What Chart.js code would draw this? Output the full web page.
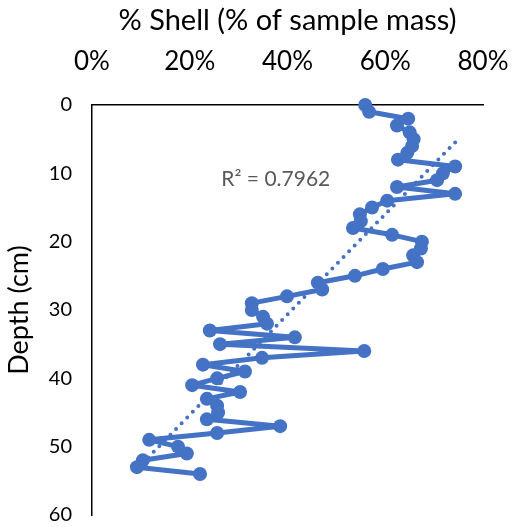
<!DOCTYPE html>
<html>
<head>
<meta charset="utf-8">
<script src="https://cdn.jsdelivr.net/npm/chart.js@4.4.0/dist/chart.umd.min.js"></script>
<style>
  html, body { margin: 0; padding: 0; background: #fff; }
  #wrap { width: 513px; height: 527px; }
</style>
</head>
<body>
<div id="wrap"><canvas id="mycanvas" width="513" height="527"></canvas></div>
<script>
// depth of each sample (cm)
var depth = [0, 1, 2, 3, 4, 5, 6, 7, 8, 9, 10, 11, 12, 13, 14, 15, 16, 17, 18, 19,
	20, 21, 22, 23, 24, 25, 26, 27, 28, 29, 30, 31, 32, 33, 34, 35, 36, 37, 38, 39,
	40, 41, 42, 43, 44, 45, 46, 47, 48, 49, 50, 51, 52, 53, 54];
// % shell
var shell = [55.9, 56.7, 64.7, 62.4, 65.0, 65.8, 65.5, 64.5, 62.6, 74.3, 71.8, 70.6, 62.4, 74.3, 60.4, 57.3, 54.8, 55.0, 53.4, 61.4,
	67.5, 67.3, 65.7, 66.5, 59.5, 53.8, 46.2, 47.1, 39.9, 32.7, 32.7, 35.0, 35.8, 24.1, 41.5, 26.2, 55.7, 34.8, 22.7, 31.3,
	25.6, 20.5, 30.3, 23.5, 25.6, 25.8, 23.5, 38.5, 25.6, 11.7, 17.6, 19.4, 10.4, 9.2, 22.1];
var xTicks = [0, 20, 40, 60, 80];
var yTicks = [0, 10, 20, 30, 40, 50, 60];
var r2Text = "R\u00b2 = 0.7962";

var blue = "#4472C4";
var font = "Lato, 'Noto Sans', sans-serif";

var points = [];
for (var i in depth) {
	points.push({x: shell[i], y: depth[i]});
}

// linear trendline, depth on shell (like the spreadsheet does it)
var n = points.length, sx = 0, sy = 0, sxx = 0, sxy = 0;
for (var i in points) {
	sx += points[i].x; sy += points[i].y;
	sxx += points[i].x * points[i].x; sxy += points[i].x * points[i].y;
}
var slope = (n * sxy - sx * sy) / (n * sxx - sx * sx);
var icpt = (sy - slope * sx) / n;
var xmin = Math.min.apply(null, shell), xmax = Math.max.apply(null, shell);
var trend = [{x: xmax, y: slope * xmax + icpt}, {x: xmin, y: slope * xmin + icpt}];

var r2Label = {
	id: "r2Label",
	afterDatasetsDraw: function(chart) {
		var c = chart.ctx;
		c.save();
		c.font = "21px " + font;
		c.fillStyle = "#595959";
		c.textAlign = "center";
		c.textBaseline = "middle";
		c.fillText(r2Text, chart.scales.x.getPixelForValue(37.6), chart.scales.y.getPixelForValue(10.8));
		c.restore();
	}
};

var ctx = document.getElementById("mycanvas");
var chart = new Chart(ctx, {
	type: "scatter",
	data: {
		datasets: [
			{
				label: "trend",
				data: trend,
				showLine: true,
				fill: false,
				borderColor: blue,
				borderWidth: 4,
				borderDash: [0, 8],
				borderCapStyle: "round",
				pointRadius: 0,
				clip: false,
				order: 2
			},
			{
				label: "% Shell",
				data: points,
				showLine: true,
				fill: false,
				lineTension: 0,
				borderColor: blue,
				backgroundColor: blue,
				borderWidth: 5,
				borderJoinStyle: "round",
				borderCapStyle: "round",
				pointRadius: 7,
				pointBorderWidth: 0,
				pointBackgroundColor: blue,
				clip: false,
				order: 1
			}
		]
	},
	options: {
		responsive: false,
		animation: false,
		layout: {padding: {top: 0, right: 30, bottom: 2, left: 0}},
		plugins: {legend: {display: false}, tooltip: {enabled: false}},
		scales: {
			x: {
				type: "linear",
				position: "top",
				min: 0,
				max: 80,
				afterBuildTicks: function(s) { s.ticks = xTicks.map(function(v) { return {value: v}; }); },
				afterFit: function(s) { s.height = 105; },
				// ticks hidden, their length only pushes the labels away from the axis
				grid: {display: false, drawTicks: true, tickLength: 28},
				border: {display: true, color: "#000", width: 1.5},
				ticks: {
					color: "#000",
					font: {family: font, size: 26},
					padding: 0,
					maxRotation: 0,
					callback: function(v) { return v + "%"; }
				},
				title: {
					display: true,
					text: "% Shell (% of sample mass)",
					color: "#000",
					font: {family: font, size: 29},
					padding: {top: 3, bottom: 0}
				}
			},
			y: {
				type: "linear",
				reverse: true,
				min: 0,
				max: 60,
				afterBuildTicks: function(s) { s.ticks = yTicks.map(function(v) { return {value: v}; }); },
				afterFit: function(s) { s.width = 92; },
				grid: {display: false, drawTicks: true, tickLength: 20},
				border: {display: true, color: "#000", width: 1.5},
				ticks: {
					color: "#000",
					font: {family: font, size: 20},
					padding: 0
				},
				title: {
					display: true,
					text: "Depth (cm)",
					color: "#000",
					font: {family: font, size: 27},
					padding: {top: 3, bottom: 0}
				}
			}
		}
	},
	plugins: [r2Label]
});
</script>
</body>
</html>
